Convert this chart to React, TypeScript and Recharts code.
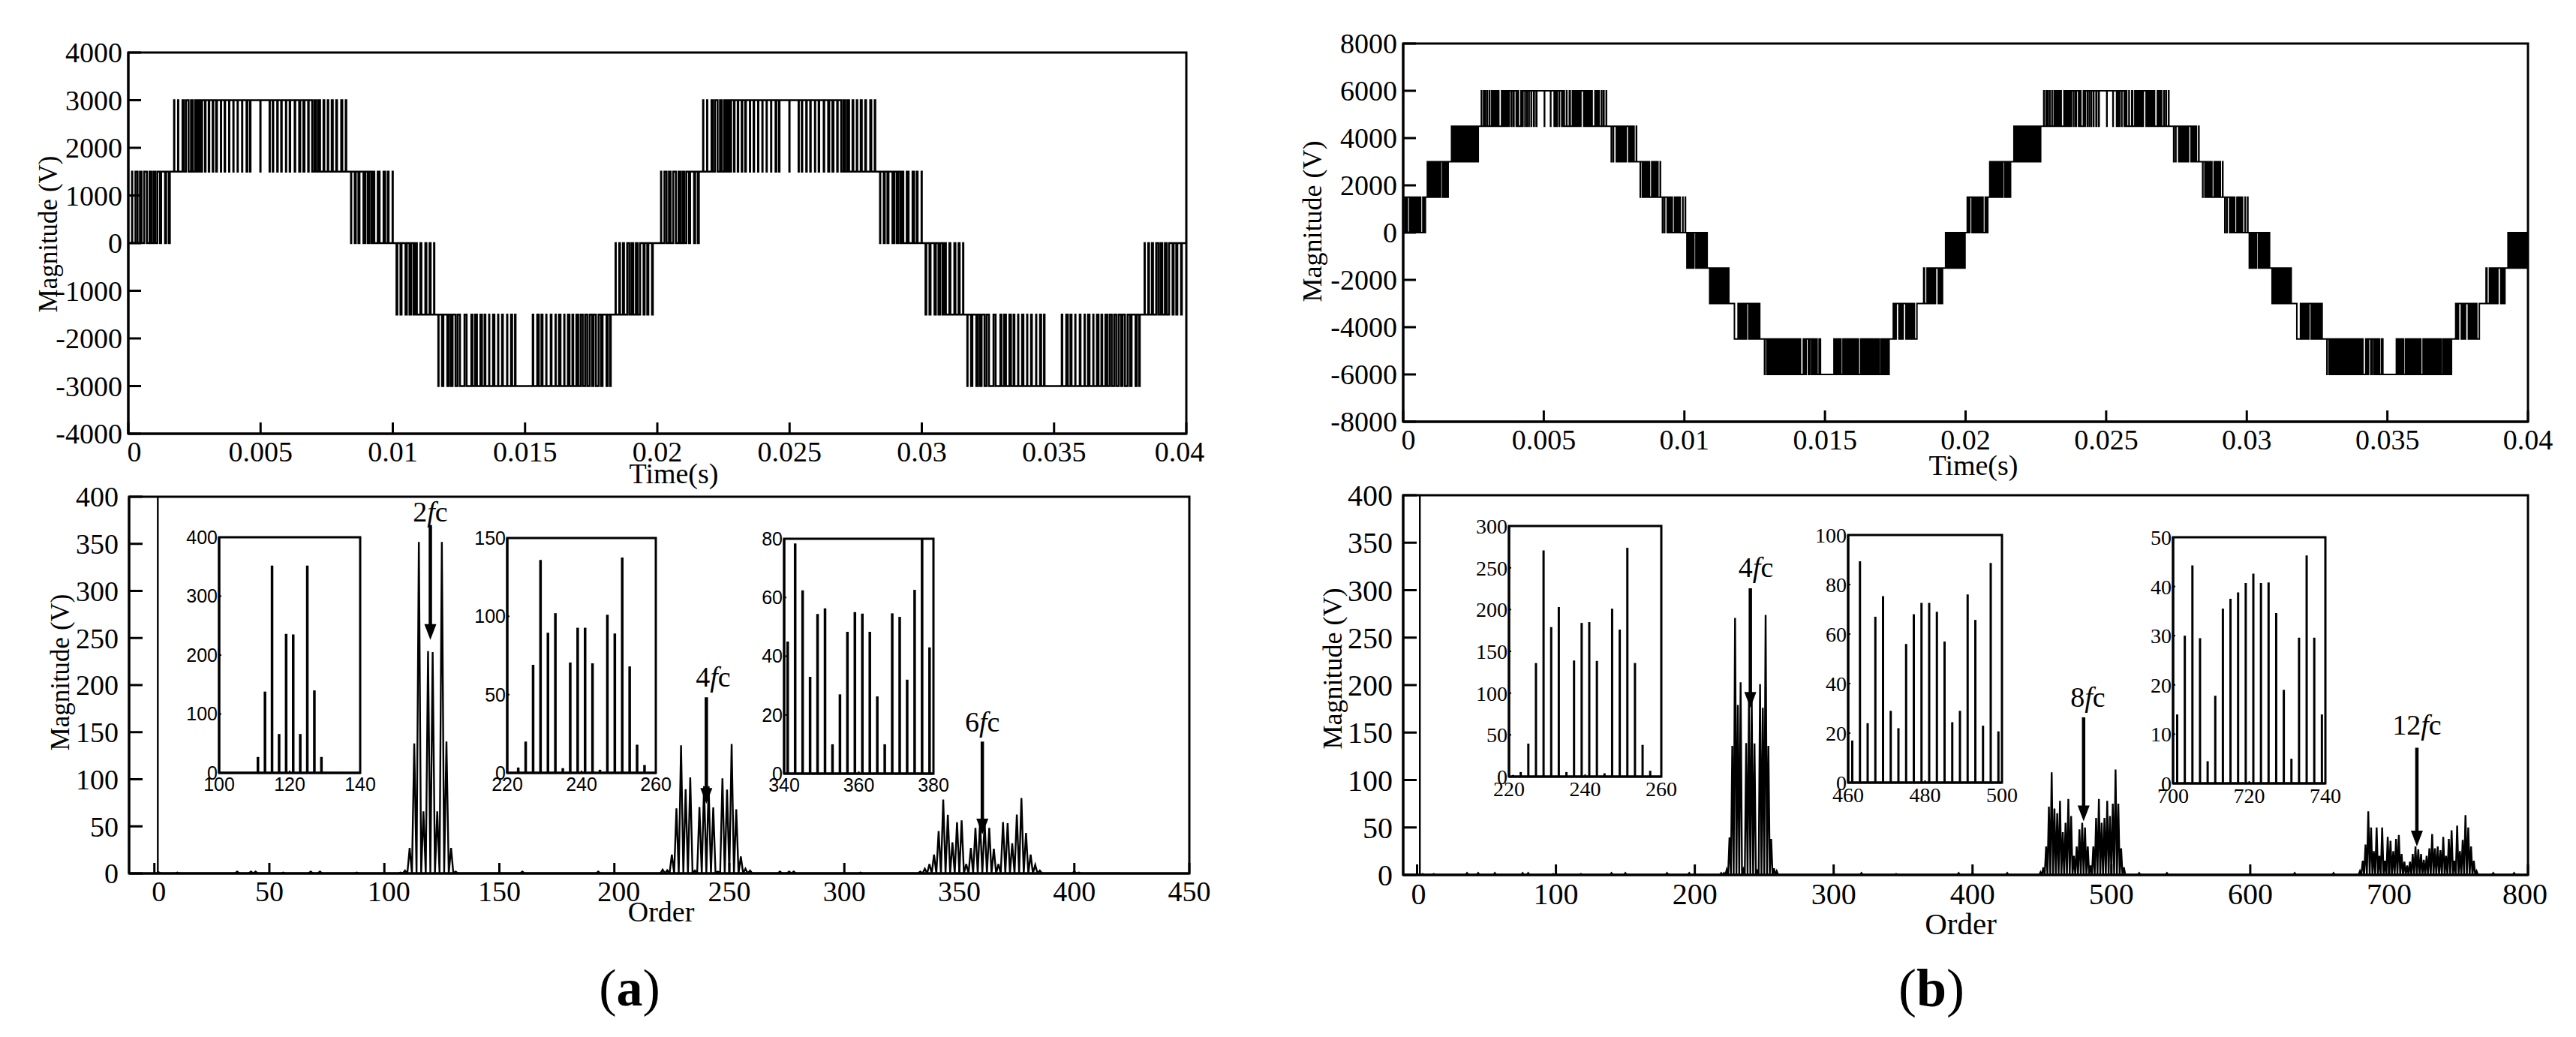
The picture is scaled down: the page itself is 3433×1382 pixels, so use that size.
import React from "react";
import {
  ComposedChart,
  Line,
  Bar,
  XAxis,
  YAxis,
  ReferenceArea,
  ReferenceLine,
  ReferenceDot,
} from "recharts";

const SERIF = "'Liberation Serif', serif";
const SANS = "'Liberation Sans', sans-serif";

// ---- waveform (a): switching instants per voltage step, unit 0.01 ms, one 20 ms period
const aBandFrom = [0, 1500, 1500, 0, -1500, -1500];
const aBandTo = [1500, 3000, 0, -1500, -3000, 0];
const aEdges1 = [14, 15, 27, 35, 44, 50, 60, 70, 80, 87, 95, 102, 110, 120, 124, 139, 143, 153, 157];
const aEdges2 = [173, 174, 188, 189, 205, 210, 218, 228, 237, 243, 252, 259, 266, 272, 279, 290, 292, 304, 306, 319, 321, 332, 335, 350, 351, 364, 366, 381, 382, 397, 398, 413, 414, 430, 431, 447, 450, 460, 462, 499, 500, 534, 535, 546, 548, 563, 565, 578, 580, 596, 597, 610, 612, 629, 631, 646, 650, 662, 666, 680, 682, 695, 703, 710, 718, 725, 738, 741, 754, 756, 769, 773, 786, 789, 805, 809, 822, 824];
const aEdges3 = [842, 843, 856, 860, 870, 874, 889, 896, 905, 912, 920, 925, 930, 943, 950, 965, 971, 981, 984, 999, 1000];
const aEdges4 = [1014, 1017, 1029, 1033, 1048, 1053, 1063, 1069, 1078, 1085, 1091, 1104, 1108, 1123, 1127, 1139, 1143, 1156, 1157];
const aEdges5 = [1172, 1173, 1186, 1191, 1206, 1212, 1220, 1226, 1237, 1245, 1254, 1271, 1279, 1297, 1301, 1311, 1318, 1331, 1337, 1347, 1350, 1364, 1365, 1379, 1384, 1398, 1399, 1413, 1416, 1432, 1433, 1447, 1451, 1462, 1464, 1529, 1531, 1546, 1552, 1562, 1566, 1580, 1581, 1597, 1600, 1615, 1616, 1628, 1634, 1648, 1649, 1662, 1668, 1679, 1682, 1694, 1701, 1710, 1718, 1727, 1735, 1744, 1753, 1759, 1768, 1778, 1787, 1793, 1808, 1812, 1821, 1824];
const aEdges6 = [1842, 1843, 1856, 1859, 1870, 1874, 1886, 1894, 1902, 1909, 1919, 1926, 1935, 1948, 1952, 1962, 1966, 1980, 1983];
const aBands = [aEdges1, aEdges2, aEdges3, aEdges4, aEdges5, aEdges6];

// ---- waveform (b)
const bBandFrom = [0, 1500, 3000, 4500, 4500, 3000, 1500, 0, -1500, -3000, -4500, -4500, -3000, -1500];
const bBandTo = [1500, 3000, 4500, 6000, 3000, 1500, 0, -1500, -3000, -4500, -6000, -3000, -1500, 0];
const bEdges1 = [6, 11, 15, 23, 28, 33, 38, 43, 48, 53, 58, 62, 70, 75, 79];
const bEdges2 = [86, 89, 93, 98, 103, 108, 113, 118, 123, 128, 133, 140, 144, 148, 152, 156, 160];
const bEdges3 = [172, 176, 181, 186, 191, 196, 200, 205, 210, 215, 220, 225, 229, 234, 239, 244, 249, 253, 258, 263, 267];
const bEdges4 = [278, 279, 286, 287, 292, 293, 299, 300, 307, 308, 315, 320, 325, 330, 335, 340, 350, 355, 360, 365, 370, 375, 377, 384, 385, 391, 394, 402, 406, 410, 419, 423, 426, 433, 434, 440, 441, 447, 448, 455, 456, 464, 466, 473, 475, 502, 503, 524, 525, 537, 541, 545, 548, 555, 556, 564, 568, 573, 581, 582, 591, 594, 602, 607, 612, 617, 622, 627, 632, 642, 647, 652, 657, 662, 667, 672, 682, 687, 692, 697, 705, 706, 712, 714, 722, 723];
const bEdges5 = [740, 741, 747, 748, 758, 763, 768, 773, 778, 783, 788, 793, 802, 807, 812, 817, 821, 829, 830];
const bEdges6 = [843, 844, 851, 856, 861, 866, 871, 874, 876, 884, 889, 894, 899, 903, 906, 914, 915];
const bEdges7 = [922, 923, 929, 930, 939, 944, 949, 954, 957, 965, 970, 973, 977, 981, 985, 994, 995, 1003, 1004];
const bEdges8 = [1009, 1014, 1019, 1024, 1029, 1034, 1041, 1046, 1051, 1056, 1061, 1066, 1071, 1076, 1081];
const bEdges9 = [1090, 1095, 1100, 1105, 1110, 1115, 1120, 1125, 1130, 1135, 1140, 1145, 1150, 1155, 1158];
const bEdges10 = [1178, 1191, 1196, 1201, 1206, 1211, 1216, 1221, 1229, 1234, 1239, 1244, 1249, 1254, 1259, 1264, 1268];
const bEdges11 = [1285, 1286, 1293, 1298, 1303, 1308, 1313, 1318, 1323, 1328, 1333, 1338, 1343, 1348, 1353, 1358, 1363, 1368, 1373, 1378, 1383, 1388, 1393, 1398, 1403, 1408, 1413, 1423, 1428, 1433, 1441, 1446, 1452, 1457, 1462, 1467, 1472, 1479, 1484, 1532, 1537, 1542, 1547, 1552, 1557, 1564, 1569, 1574, 1579, 1584, 1589, 1594, 1599, 1604, 1609, 1614, 1619, 1627, 1632, 1637, 1642, 1647, 1652, 1657, 1662, 1667, 1672, 1677, 1682, 1687, 1692, 1698, 1703, 1708, 1713, 1718, 1723, 1728];
const bEdges12 = [1743, 1748, 1753, 1763, 1768, 1773, 1778, 1788, 1793, 1798, 1803, 1808, 1813, 1818, 1827];
const bEdges13 = [1851, 1854, 1863, 1868, 1873, 1878, 1883, 1888, 1893, 1903, 1908, 1913, 1918];
const bEdges14 = [1929, 1934, 1939, 1944, 1949, 1954, 1959, 1964, 1969, 1974, 1979, 1984, 1989, 1994, 1998];
const bBands = [bEdges1, bEdges2, bEdges3, bEdges4, bEdges5, bEdges6, bEdges7, bEdges8, bEdges9, bEdges10, bEdges11, bEdges12, bEdges13, bEdges14];

// ---- spectra, odd orders
const a1Orders = [111, 113, 115, 117, 119, 121, 123, 125, 127, 129];
const a1Mags = [27, 138, 352, 66, 236, 235, 66, 352, 140, 27];
const a2Orders = [223, 225, 227, 229, 231, 233, 235, 237, 239, 241, 243, 245, 247, 249, 251, 253, 255, 257];
const a2Mags = [3.4, 20, 69, 136, 89.5, 102, 3, 70.5, 92.7, 92.7, 70, 2, 101, 89, 137.5, 68, 18, 5];
const a3Orders = [341, 343, 345, 347, 349, 351, 353, 355, 357, 359, 361, 363, 365, 367, 369, 371, 373, 375, 377, 379];
const a3Mags = [45, 78.4, 62.4, 33, 54.4, 56.3, 10, 27, 48.3, 55, 54.5, 48.3, 26.3, 10, 54.6, 53.4, 32, 62.6, 80, 43];
const aTailOrders = [2, 10, 36, 42, 44, 56, 68, 72, 88, 107, 109, 131, 160, 193, 221, 259, 272, 276, 278, 307, 333, 335, 337, 339, 381, 383, 385, 400, 402];
const aTailMags = [1, 1, 2, 2, 2, 1, 2, 2, 1, 1, 3, 2, 2, 2, 4, 3, 2, 2, 2, 1, 2, 5, 10, 20, 20, 9, 3, 2, 1];

const b1Orders = [221, 223, 225, 227, 229, 231, 233, 235, 237, 239, 241, 243, 245, 247, 249, 251, 253, 255, 257];
const b1Mags = [2, 5.5, 39.5, 136, 270.7, 179, 203, 5.5, 139, 184, 185, 138.5, 4, 201, 176, 274, 136, 38, 7];
const b2Orders = [461, 463, 465, 467, 469, 471, 473, 475, 477, 479, 481, 483, 485, 487, 489, 491, 493, 495, 497, 499];
const b2Mags = [17, 89.4, 24, 67, 75.3, 29, 22, 56, 68, 72.6, 72.6, 69, 57, 24.4, 29, 76, 65.7, 23, 88.7, 20.7];
const b3Orders = [701, 703, 705, 707, 709, 711, 713, 715, 717, 719, 721, 723, 725, 727, 729, 731, 733, 735, 737, 739];
const b3Mags = [14, 30, 44.3, 29.5, 4.5, 17.8, 35.5, 37.5, 38.8, 40.7, 42.6, 40.7, 40.8, 34.6, 19, 5, 29.6, 46.3, 29.6, 14];
const b8Orders = [449, 451, 453, 455, 457, 459, 461, 463, 465, 467, 469, 471, 473, 475, 477, 479, 481, 483, 485, 487, 489, 491, 493, 495, 497, 499, 501, 503, 505, 507, 509];
const b8Mags = [3, 8, 30, 72, 108, 70, 65, 78, 45, 55, 80, 62, 20, 30, 48, 55, 50, 30, 10, 30, 60, 80, 55, 60, 78, 62, 75, 111, 75, 28, 8];
const b12Orders = [679, 681, 683, 685, 687, 689, 691, 693, 695, 697, 699, 701, 703, 705, 707, 709, 711, 713, 715, 717, 719, 721, 723, 725, 727, 729, 731, 733, 735, 737, 739, 741, 743, 745, 747, 749, 751, 753, 755, 757, 759, 761, 763];
const b12Mags = [4, 15, 32, 67, 50, 25, 50, 20, 50, 15, 40, 36, 25, 38, 42, 22, 14, 10, 14, 22, 30, 27, 22, 16, 20, 28, 43, 28, 30, 26, 40, 20, 38, 47, 15, 52, 25, 37, 63, 50, 30, 15, 4];
const bTailOrders = [4, 12, 36, 44, 56, 76, 80, 98, 118, 140, 150, 180, 196, 219, 259, 300, 320, 345, 390, 400, 425, 520, 540, 600, 632, 660, 775, 790];
const bTailMags = [1, 1, 2, 2, 2, 2, 2, 1, 1, 2, 2, 2, 2, 2, 4, 1, 2, 1, 2, 2, 2, 2, 2, 1, 2, 2, 2, 2];

// fundamental runs off the top of both spectra
const aFundamentalOrder = 1.5;
const bFundamentalOrder = 2;
const fundamentalMag = 400;

// ---- axes
const aVoltTicks = [-4000, -3000, -2000, -1000, 0, 1000, 2000, 3000, 4000];
const bVoltTicks = [-8000, -6000, -4000, -2000, 0, 2000, 4000, 6000, 8000];
const timeTicks = [0, 0.005, 0.01, 0.015, 0.02, 0.025, 0.03, 0.035, 0.04];
const magTicks = [0, 50, 100, 150, 200, 250, 300, 350, 400];
const aOrderTicks = [0, 50, 100, 150, 200, 250, 300, 350, 400, 450];
const bOrderTicks = [0, 100, 200, 300, 400, 500, 600, 700, 800];

// ---- arrows: harmonic text, order, arrow top, arrow tip, label order, label magnitude
const aArrows = [
  { k: "2", order: 120, top: 370, tip: 248, labelOrder: 120, labelMag: 384 },
  { k: "4", order: 240, top: 187, tip: 74, labelOrder: 243, labelMag: 209 },
  { k: "6", order: 360, top: 140, tip: 41.5, labelOrder: 360, labelMag: 161 },
];
const bArrows = [
  { k: "4", order: 240, top: 302, tip: 176, labelOrder: 244, labelMag: 324 },
  { k: "8", order: 480, top: 166, tip: 56.5, labelOrder: 483, labelMag: 187 },
  { k: "12", order: 720, top: 134, tip: 30, labelOrder: 720, labelMag: 158 },
];

function buildWave(bands: number[][], from: number[], to: number[]) {
  const rows: { t: number; v: number }[] = [{ t: 0, v: 0 }];
  [0, 2000].forEach((offset) => {
    bands.forEach((edges, b) => {
      edges.forEach((u, i) => {
        rows.push({ t: (u + offset) * 1e-5, v: i % 2 === 0 ? to[b] : from[b] });
      });
    });
  });
  rows.push({ t: 0.04, v: 0 });
  return rows;
}

// each harmonic is a spike from the zero floor at the even orders beside it
function buildSpectrum(fund: number, groups: [number[], number[]][], end: number) {
  const pts: { x: number; y: number }[] = [];
  groups.forEach(([orders, mags]) => {
    orders.forEach((o, i) => {
      pts.push({ x: o - 1, y: 0 }, { x: o, y: mags[i] }, { x: o + 1, y: 0 });
    });
  });
  pts.push({ x: fund, y: 0 }, { x: fund, y: fundamentalMag }, { x: fund, y: 0 }, { x: 0, y: 0 }, { x: end, y: 0 });
  return pts.map((p, i) => ({ ...p, i })).sort((a, b) => a.x - b.x || a.i - b.i);
}

const aWave = buildWave(aBands, aBandFrom, aBandTo);
const bWave = buildWave(bBands, bBandFrom, bBandTo);
const aSpectrum = buildSpectrum(aFundamentalOrder, [[a1Orders, a1Mags], [a2Orders, a2Mags], [a3Orders, a3Mags], [aTailOrders, aTailMags]], 420);
const bSpectrum = buildSpectrum(bFundamentalOrder, [[b1Orders, b1Mags], [b8Orders, b8Mags], [b12Orders, b12Mags], [bTailOrders, bTailMags]], 800);

const PAD = { l: 170, r: 60, t: 24, b: 60 };
const box = (x0: number, y0: number, x1: number, y1: number, pad = PAD): React.CSSProperties => ({
  position: "absolute",
  left: x0 - pad.l,
  top: y0 - pad.t,
  width: x1 - x0 + pad.l + pad.r,
  height: y1 - y0 + pad.t + pad.b,
});

const black = { stroke: "#000", strokeWidth: 3 };

// x labels sit with small nudges in the reference
const xTick = (size: number, family: string, nudge: Record<string, number> = {}) => (p: any) => (
  <text
    x={p.x + (nudge[String(p.payload.value)] || 0)}
    y={p.y + size * 0.72}
    textAnchor="middle"
    fontFamily={family}
    fontSize={size}
    fill="#000"
  >
    {String(p.payload.value)}
  </text>
);

function WaveChart({ rect, data, yTicks, nudge, lineWidth }: any) {
  const [x0, y0, x1, y1] = rect;
  const w = x1 - x0 + PAD.l + PAD.r;
  const h = y1 - y0 + PAD.t + PAD.b;
  const yMax = yTicks[yTicks.length - 1];
  return (
    <div style={box(x0, y0, x1, y1)}>
      <ComposedChart width={w} height={h} data={data} margin={{ top: PAD.t, right: PAD.r, left: 0, bottom: 0 }}>
        <XAxis
          dataKey="t"
          type="number"
          domain={[0, 0.04]}
          ticks={timeTicks}
          interval={0}
          height={PAD.b}
          axisLine={black}
          tickLine={black}
          tickSize={-15}
          tickMargin={25}
          tick={xTick(38, SERIF, nudge)}
        />
        <YAxis
          type="number"
          domain={[-yMax, yMax]}
          ticks={yTicks}
          interval={0}
          width={PAD.l}
          axisLine={black}
          tickLine={black}
          tickSize={-17}
          tickMargin={25}
          tick={{ fontFamily: SERIF, fontSize: 38, fill: "#000" }}
        />
        <ReferenceArea x1={0} x2={0.04} y1={-yMax} y2={yMax} fill="none" stroke="#000" strokeWidth={3} />
        <Line dataKey="v" type="stepAfter" stroke="#000" strokeWidth={lineWidth} dot={false} isAnimationActive={false} />
      </ComposedChart>
    </div>
  );
}

const Head = (p: any) => (
  <path d={`M${p.cx} ${p.cy}L${p.cx - 8} ${p.cy - 21}L${p.cx + 8} ${p.cy - 21}Z`} fill="#000" />
);

const fcLabel = (k: string) => (p: any) => (
  <text x={p.cx} y={p.cy + 13} textAnchor="middle" fontFamily={SERIF} fontSize={38} fill="#000">
    {k}
    <tspan fontStyle="italic">f</tspan>c
  </text>
);

function SpectrumChart({ rect, data, xDomain, xTicks, arrows, fontSize, nudge }: any) {
  const [x0, y0, x1, y1] = rect;
  const w = x1 - x0 + PAD.l + PAD.r;
  const h = y1 - y0 + PAD.t + PAD.b;
  return (
    <div style={box(x0, y0, x1, y1)}>
      <ComposedChart width={w} height={h} data={data} margin={{ top: PAD.t, right: PAD.r, left: 0, bottom: 0 }}>
        <XAxis
          dataKey="x"
          type="number"
          domain={xDomain}
          ticks={xTicks}
          interval={0}
          allowDataOverflow
          height={PAD.b}
          axisLine={black}
          tickLine={black}
          tickSize={-14}
          tickMargin={24}
          tick={xTick(fontSize, SERIF, nudge)}
        />
        <YAxis
          type="number"
          domain={[0, 400]}
          ticks={magTicks}
          interval={0}
          allowDataOverflow
          width={PAD.l}
          axisLine={black}
          tickLine={black}
          tickSize={-18}
          tickMargin={32}
          tick={{ fontFamily: SERIF, fontSize, fill: "#000" }}
        />
        <ReferenceArea x1={xDomain[0]} x2={xDomain[1]} y1={0} y2={400} fill="none" stroke="#000" strokeWidth={3} />
        <Line dataKey="y" type="linear" stroke="#000" strokeWidth={2.4} dot={false} isAnimationActive={false} />
        {arrows.map((a: any) => (
          <ReferenceLine
            key={`l${a.k}`}
            segment={[{ x: a.order, y: a.top }, { x: a.order, y: a.tip + 10 }]}
            stroke="#000"
            strokeWidth={4.5}
          />
        ))}
        {arrows.map((a: any) => (
          <ReferenceDot key={`h${a.k}`} x={a.order} y={a.tip} r={1} shape={Head} />
        ))}
        {arrows.map((a: any) => (
          <ReferenceDot key={`t${a.k}`} x={a.labelOrder} y={a.labelMag} r={1} shape={fcLabel(a.k)} />
        ))}
      </ComposedChart>
    </div>
  );
}

const IPAD = { l: 60, r: 40, t: 20, b: 40 };

function Inset({ rect, orders, mags, xTicks, yTicks, family, fontSize, barSize }: any) {
  const [x0, y0, x1, y1] = rect;
  const w = x1 - x0 + IPAD.l + IPAD.r;
  const h = y1 - y0 + IPAD.t + IPAD.b;
  const rows = orders.map((o: number, i: number) => ({ o, m: mags[i] }));
  const yMax = yTicks[yTicks.length - 1];
  const xMin = xTicks[0];
  const xMax = xTicks[xTicks.length - 1];
  return (
    <div style={box(x0, y0, x1, y1, IPAD)}>
      <ComposedChart width={w} height={h} data={rows} margin={{ top: IPAD.t, right: IPAD.r, left: 0, bottom: 0 }}>
        <XAxis
          dataKey="o"
          type="number"
          domain={[xMin, xMax]}
          ticks={xTicks}
          interval={0}
          height={IPAD.b}
          axisLine={black}
          tickLine={{ stroke: "#000", strokeWidth: 2 }}
          tickSize={-3}
          tickMargin={9}
          tick={xTick(fontSize, family)}
        />
        <YAxis
          type="number"
          domain={[0, yMax]}
          ticks={yTicks}
          interval={0}
          width={IPAD.l}
          axisLine={black}
          tickLine={{ stroke: "#000", strokeWidth: 2 }}
          tickSize={-3}
          tickMargin={5}
          tick={{ fontFamily: family, fontSize, fill: "#000" }}
        />
        <ReferenceArea x1={xMin} x2={xMax} y1={0} y2={yMax} fill="none" stroke="#000" strokeWidth={3} />
        <Bar dataKey="m" fill="#000" barSize={barSize} isAnimationActive={false} />
      </ComposedChart>
    </div>
  );
}

const Txt = ({ x, y, size, rot, children }: any) => (
  <div
    style={{
      position: "absolute",
      left: x,
      top: y,
      transform: `translate(-50%,-50%)${rot ? " rotate(-90deg)" : ""}`,
      fontFamily: SERIF,
      fontSize: size,
      whiteSpace: "nowrap",
      color: "#000",
      lineHeight: 1,
    }}
  >
    {children}
  </div>
);

export default function App() {
  return (
    <div style={{ position: "absolute", left: 0, top: 0, width: 3433, height: 1382, background: "#fff", overflow: "hidden" }}>
      <WaveChart rect={[171, 70, 1581, 578]} data={aWave} yTicks={aVoltTicks} nudge={{ "0": 8, "0.04": -9 }} lineWidth={2.6} />
      <WaveChart rect={[1870, 58, 3369, 562]} data={bWave} yTicks={bVoltTicks} nudge={{ "0": 7 }} lineWidth={2} />

      <SpectrumChart rect={[172, 662, 1585, 1164]} data={aSpectrum} xDomain={[-11, 450]} xTicks={aOrderTicks} arrows={aArrows} fontSize={38} nudge={{ "0": 6, "100": 6, "200": 6 }} />
      <SpectrumChart rect={[1870, 660, 3369, 1166]} data={bSpectrum} xDomain={[-10, 800]} xTicks={bOrderTicks} arrows={bArrows} fontSize={40} nudge={{ "0": 2, "800": -4 }} />

      <Inset rect={[292, 716, 480, 1030]} orders={a1Orders} mags={a1Mags} xTicks={[100, 120, 140]} yTicks={[0, 100, 200, 300, 400]} family={SANS} fontSize={25} barSize={3.5} />
      <Inset rect={[676, 717, 874, 1030]} orders={a2Orders} mags={a2Mags} xTicks={[220, 240, 260]} yTicks={[0, 50, 100, 150]} family={SANS} fontSize={25} barSize={3.5} />
      <Inset rect={[1045, 718, 1244, 1031]} orders={a3Orders} mags={a3Mags} xTicks={[340, 360, 380]} yTicks={[0, 20, 40, 60, 80]} family={SANS} fontSize={25} barSize={3.5} />
      <Inset rect={[2011, 701, 2214, 1035]} orders={b1Orders} mags={b1Mags} xTicks={[220, 240, 260]} yTicks={[0, 50, 100, 150, 200, 250, 300]} family={SERIF} fontSize={28} barSize={3} />
      <Inset rect={[2463, 713, 2668, 1043]} orders={b2Orders} mags={b2Mags} xTicks={[460, 480, 500]} yTicks={[0, 20, 40, 60, 80, 100]} family={SERIF} fontSize={28} barSize={3} />
      <Inset rect={[2896, 716, 3099, 1044]} orders={b3Orders} mags={b3Mags} xTicks={[700, 720, 740]} yTicks={[0, 10, 20, 30, 40, 50]} family={SERIF} fontSize={28} barSize={3} />

      <Txt x={64} y={312} size={35} rot>Magnitude (V)</Txt>
      <Txt x={80} y={896} size={35} rot>Magnitude (V)</Txt>
      <Txt x={1749} y={295} size={36} rot>Magnitude (V)</Txt>
      <Txt x={1776} y={891} size={36} rot>Magnitude (V)</Txt>
      <Txt x={898} y={631} size={38}>Time(s)</Txt>
      <Txt x={2630} y={620} size={38}>Time(s)</Txt>
      <Txt x={881} y={1215} size={38}>Order</Txt>
      <Txt x={2613} y={1231} size={41}>Order</Txt>
      <Txt x={839} y={1317} size={70}>(<b>a</b>)</Txt>
      <Txt x={2574} y={1317} size={72}>(<b>b</b>)</Txt>
    </div>
  );
}
